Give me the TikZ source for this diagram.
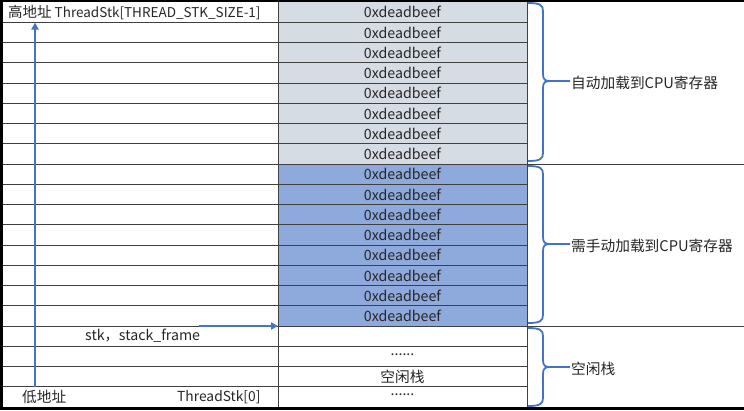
\documentclass[tikz,border=0pt]{standalone}
\usepackage{fontspec}
\setmainfont{Noto Sans CJK SC}
\usetikzlibrary{arrows.meta}
\definecolor{greyfill}{HTML}{D6DCE4}
\definecolor{bluefill}{HTML}{8EA9DB}
\definecolor{braceblue}{HTML}{4472C4}
\definecolor{txt}{HTML}{262626}
\begin{document}
\begin{tikzpicture}[x=1pt,y=-1pt,
  gridline/.style={draw=black!75,line width=0.9pt},
  border/.style={draw=black,line width=2.2pt},
  val/.style={inner sep=0pt,text=txt,font=\fontsize{14.2}{16}\selectfont},
  lbl/.style={inner sep=0pt,text=txt,font=\fontsize{13.5}{16}\selectfont,anchor=west},
  clbl/.style={lbl,font=\fontsize{14.7}{17}\selectfont},
  bluearrow/.style={draw=braceblue,line width=1.8pt,-{Triangle[length=7pt,width=7pt]}},
  bracepath/.style={draw=braceblue,line width=1.8pt,line join=round}]
\useasboundingbox (0,0) rectangle (744,410);
% fills
\fill[greyfill] (278,2) rectangle (527,164);
\fill[bluefill] (278,164) rectangle (527,326);
% grid
\foreach \k in {1,...,19} \draw[gridline] (2,{2+20.25*\k}) -- (527,{2+20.25*\k});
\draw[gridline] (527,164) -- (744,164);
\draw[gridline] (527,326) -- (744,326);
\draw[gridline] (278,2) -- (278,407);
\draw[gridline] (527,2) -- (527,407);
% borders
\draw[border] (0,1) -- (744,1);
\draw[border] (0,408.5) -- (744,408.5);
\draw[border] (1.5,0) -- (1.5,410);
% values
\foreach \k in {0,...,15} \node[val] (v\k) at (402.5,{12.3+20.25*\k}) {0xdeadbeef};
\node[val] (d1) at (402.5,{2+20.25*17.5-2}) {......};
\node[val,font=\fontsize{14.7}{17}\selectfont] (free) at (402.5,{2+20.25*18.5}) {空闲栈};
\node[val] (d2) at (402.5,{2+20.25*19.5-2}) {......};
% left texts
\node[lbl] (high) at (8,12.3) {{\fontsize{14.5}{17}\selectfont 高地址} ThreadStk[THREAD\_STK\_SIZE-1]};
\node[lbl,font=\fontsize{14.2}{17}\selectfont] (sfl) at (85,{2+20.25*16.5}) {stk，stack\_frame};
\node[clbl] (low) at (22,{2+20.25*19.5}) {低地址};
\node[lbl,font=\fontsize{13.8}{17}\selectfont] (ts0) at (177,{2+20.25*19.5}) {ThreadStk[0]};
% arrows
\coordinate (lo) at (35,387);
\coordinate (hi) at (35,22.5);
\draw[bluearrow] (lo) -- (hi);
\coordinate (sfs) at (199,326);
\coordinate (sfe) at (278,326);
\draw[bluearrow] (sfs) -- (sfe);
% braces
\foreach \T/\M/\B/\n in {3/81/161/b1,166/244/323/b2,328/367/406/b3}{
  \draw[bracepath] (528,\T) .. controls (540,\T) and (543,\T+2) .. (543,\T+8)
     -- (543,\M-7) .. controls (543,\M-1.5) and (545,\M) .. (550,\M) -- (570,\M);
  \draw[bracepath] (550,\M) .. controls (545,\M) and (543,\M+1.5) .. (543,\M+7)
     -- (543,\B-8) .. controls (543,\B-2) and (540,\B) .. (528,\B);
  \coordinate (\n) at (571,\M);
}
\node[clbl] (t1) at ([yshift=-2pt]b1) {自动加载到CPU寄存器};
\node[clbl] (t2) at ([yshift=-2pt]b2) {需手动加载到CPU寄存器};
\node[clbl] (t3) at ([yshift=-2pt]b3) {空闲栈};
\end{tikzpicture}
\end{document}
